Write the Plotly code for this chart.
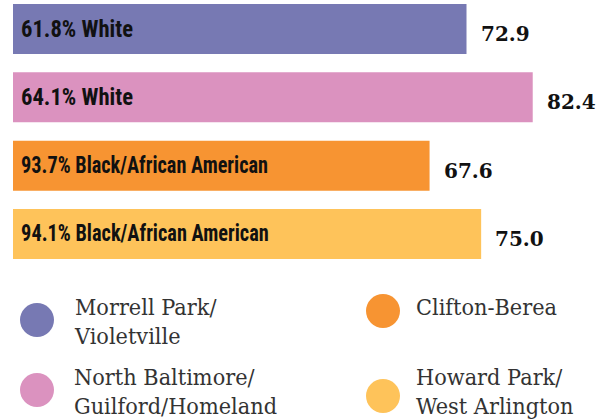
import plotly.graph_objects as go

neighborhoods = ["Morrell Park/<br>Violetville", "North Baltimore/<br>Guilford/Homeland",
                 "Clifton-Berea", "Howard Park/<br>West Arlington"]
life_expectancy = [72.9, 82.4, 67.6, 75.0]
race_labels = ["61.8% White", "64.1% White", "93.7% Black/African American",
               "94.1% Black/African American"]
colors = ["#7779B3", "#DB92BF", "#F79432", "#FEC35A"]

W, H = 598, 419
cats = [0, 1, 2, 3]

fig = go.Figure()
fig.add_trace(go.Bar(
    x=life_expectancy, y=cats, orientation="h",
    marker=dict(color=colors, line=dict(width=0)),
    hoverinfo="skip", showlegend=False,
))

annotations = []
for i, (v, lab) in enumerate(zip(life_expectancy, race_labels)):
    annotations.append(dict(
        x=19 / W, xref="paper", y=i, yref="y", text=lab, showarrow=False,
        xanchor="left", yanchor="middle",
        font=dict(family="Roboto Condensed, Liberation Sans Narrow, Roboto, sans-serif",
                  size=23, color="#111111", weight=700),
    ))
    annotations.append(dict(
        x=v, xref="x", y=i, yref="y", text=f"{v:.1f}", showarrow=False,
        xanchor="left", yanchor="middle", xshift=12, yshift=-5,
        font=dict(family="DejaVu Serif", size=20, color="#111111", weight=700),
    ))

# legend (circles + text), 2 columns x 2 rows
leg_pos = [(37, 320, 72, 293), (37, 390, 72, 363), (383, 311, 414, 293), (383, 396, 414, 363)]
shapes = []
r = 17
for (cx, cy, tx, ty), name, c in zip(leg_pos, neighborhoods, colors):
    shapes.append(dict(type="circle", xref="paper", yref="paper",
                       x0=(cx - r) / W, x1=(cx + r) / W,
                       y0=1 - (cy + r) / H, y1=1 - (cy - r) / H,
                       fillcolor=c, line=dict(width=0)))
    annotations.append(dict(
        x=tx / W, xref="paper", y=1 - ty / H, yref="paper", text=name, showarrow=False,
        xanchor="left", yanchor="top", align="left",
        font=dict(family="DejaVu Serif", size=22, color="#333333"),
    ))

px_per_unit = 6.97
zero_px = -41.6
fig.update_layout(
    width=W, height=H,
    margin=dict(l=0, r=0, t=0, b=0),
    paper_bgcolor="white", plot_bgcolor="white",
    bargap=0.268,
    xaxis=dict(domain=[13 / W, 1],
               range=[(13 - zero_px) / px_per_unit, (W - zero_px) / px_per_unit],
               visible=False, fixedrange=True),
    yaxis=dict(domain=[1 - 259 / H, 1 - 4 / H], range=[3.366, -0.366], visible=False, fixedrange=True),
    annotations=annotations, shapes=shapes,
)

post = """
document.body.style.margin = '0px';
var targets = [112, 112, 247, 248];
var gd = document.getElementsByClassName('plotly-graph-div')[0];
var texts = gd.querySelectorAll('g.annotation text.annotation-text');
texts.forEach(function(t, idx) {
  var s = null;
  if (idx < 8 && idx % 2 === 0) {
    var w = t.getComputedTextLength();
    s = targets[idx / 2] / w;
    if (s >= 1) { s = null; }
  } else if (idx >= 8) {
    s = 0.95;
  }
  if (s !== null) {
    t.style.transformBox = 'fill-box';
    t.style.transformOrigin = 'left center';
    t.style.transform = 'scaleX(' + s.toFixed(3) + ')';
  }
});
"""
fig.write_html("out.html", post_script=post, config={"displayModeBar": False})
